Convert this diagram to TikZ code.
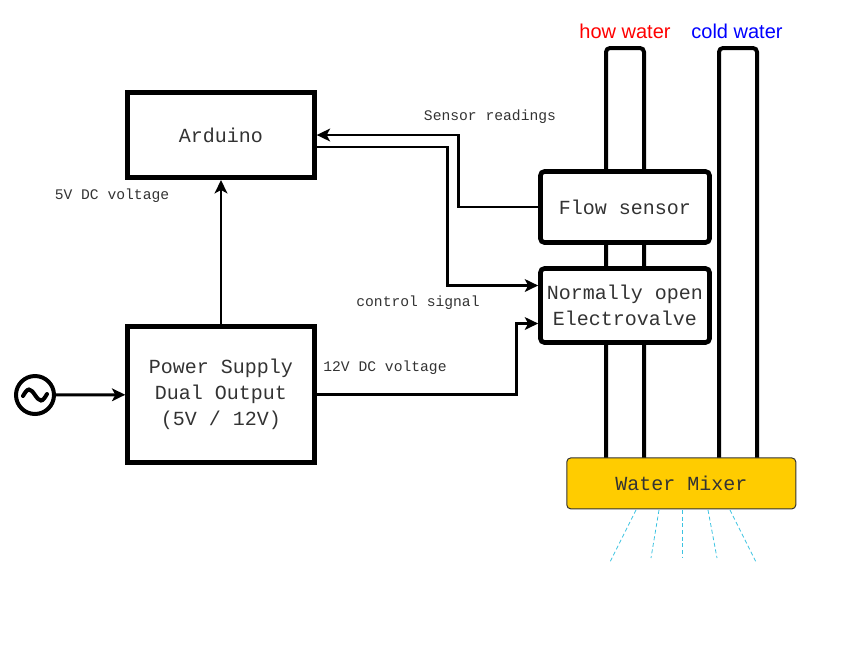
\documentclass[tikz,border=0pt]{standalone}
\usepackage{fontspec}
\setmainfont{Liberation Sans}
\setmonofont{Liberation Mono}
\usetikzlibrary{arrows.meta}
\definecolor{mixer}{RGB}{255,204,0}
\definecolor{spraycol}{RGB}{60,195,225}

\begin{document}
\begin{tikzpicture}[x=0.75pt,y=-0.75pt,
  block/.style={draw,line width=3.5pt,fill=white,text=black!80,inner sep=0pt,align=center,
    font=\ttfamily\fontsize{15}{19.5}\selectfont},
  note/.style={text=black!80,font=\ttfamily\fontsize{11}{13}\selectfont},
  wire/.style={line width=2.2pt,-{Stealth[length=10pt,width=9.5pt,inset=2.5pt]}},
  pipe/.style={line width=3pt,rounded corners=3pt},
  spray/.style={draw=spraycol,line width=0.6pt,dash pattern=on 3pt off 2pt}]
\useasboundingbox (0,0) rectangle (868,669);
\draw[pipe] (606,458) -- (606,48) -- (644,48) -- (644,458);
\draw[pipe] (719,458) -- (719,48) -- (757,48) -- (757,458);
\node[text=red,font=\fontsize{15}{18}\selectfont] (hot) at (625,31) {how water};
\node[text=blue,font=\fontsize{15}{18}\selectfont] (cold) at (737,31) {cold water};
\node[block,minimum width=140pt,minimum height=64pt] (arduino) at (221,135) {Arduino};
\node[block,minimum width=140pt,minimum height=102pt] (supply) at (221,394.5) {Power Supply\\Dual Output\\(5V / 12V)};
\node[block,rounded corners=3pt,minimum width=126.75pt,minimum height=53.25pt] (sensor) at (625,207) {Flow sensor};
\node[block,rounded corners=3pt,minimum width=126.75pt,minimum height=55.5pt] (valve) at (625,305.5) {Normally open\\Electrovalve};
\node[draw=black!80,fill=mixer,line width=0.75pt,rounded corners=3pt,text=black!80,
  font=\ttfamily\fontsize{15}{18}\selectfont,minimum width=171.75pt,minimum height=38.25pt] (mix) at (681.3,483.4) {Water Mixer};
\node[draw,circle,line width=3pt,inner sep=0pt,minimum size=28.5pt] (ac) at (35,395) {};
\draw[line width=3pt,line cap=round] (23,396) sin (29,389.5) cos (35,395) sin (41,400.5) cos (47,394);
\draw[wire] (ac) -- (supply);
\draw[wire] (supply) -- (arduino);
\draw[wire] (sensor.west) -- ++(-80,0) |- (arduino.east);
\draw[wire] ([yshift=-9pt]arduino.east) -- ++(131,0) |- ([yshift=15pt]valve.west);
\draw[wire] (supply.east) -- ++(200,0) |- ([yshift=-13.5pt]valve.west);
\node[note] (five) at (112,196) {5V DC voltage};
\node[note] (readings) at (490,117) {Sensor readings};
\node[note] (control) at (418,303) {control signal};
\node[note] (twelve) at (385,368) {12V DC voltage};
\draw[spray] (636,510) -- (610,562);
\draw[spray] (659,510) -- (651,558);
\draw[spray] (682,510) -- (682,557);
\draw[spray] (708,510) -- (717,558);
\draw[spray] (730,510) -- (756,562);
\end{tikzpicture}
\end{document}
